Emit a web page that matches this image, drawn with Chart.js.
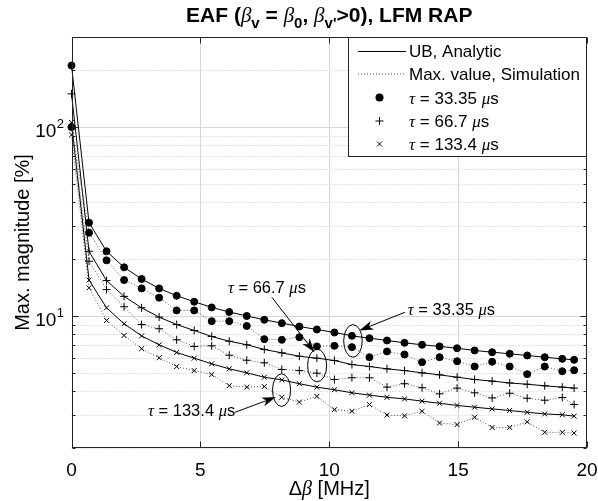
<!DOCTYPE html>
<html lang="en">
<head>
<meta charset="UTF-8">
<title>EAF, LFM RAP</title>
<script src="https://cdn.jsdelivr.net/npm/chart.js"></script>
<style>
  body { margin: 0; background: #fff; }
  #wrap { width: 598px; height: 501px; }
</style>
</head>
<body>
<div id="wrap"><canvas id="eaf" width="598" height="501"></canvas></div>
<script>
// Δβ [MHz]
const dBeta = [0, 0.68, 1.36, 2.04, 2.72, 3.4, 4.08, 4.76, 5.44, 6.12, 6.8, 7.48, 8.16, 8.84, 9.52,
               10.2, 10.88, 11.56, 12.24, 12.92, 13.6, 14.28, 14.96, 15.64, 16.32, 17.0, 17.68, 18.36, 19.04, 19.5];

// upper bound (analytic) and simulated max, per tau
const ub33  = [212, 31.2, 22.0, 18.1, 15.7, 14.0, 12.8, 11.9, 11.1, 10.5, 10.0, 9.55, 9.16, 8.80, 8.48,
               8.18, 7.85, 7.63, 7.42, 7.21, 7.04, 6.90, 6.75, 6.57, 6.43, 6.31, 6.18, 6.05, 5.93, 5.86];
const sim33 = [100, 27.6, 19.7, 15.5, 14.0, 12.5, 10.7, 10.7, 9.39, 9.39, 8.85, 7.54, 7.48, 7.72, 6.90,
               6.95, 6.84, 6.05, 6.49, 6.25, 5.69, 6.05, 5.76, 5.40, 5.72, 5.40, 4.92, 5.40, 5.10, 5.16];
const ub67  = [150, 22.0, 15.4, 12.7, 11.05, 9.86, 9.01, 8.38, 7.79, 7.35, 7.04, 6.65, 6.38, 6.12, 5.98,
               5.81, 5.53, 5.40, 5.25, 5.14, 5.00, 4.88, 4.74, 4.61, 4.52, 4.42, 4.35, 4.27, 4.20, 4.15];
const sim67 = [100, 19.5, 13.8, 11.2, 9.01, 8.56, 7.48, 6.90, 6.95, 6.20, 5.83, 5.65, 5.21, 5.14, 4.98,
               4.61, 4.71, 4.71, 4.20, 4.38, 4.17, 3.87, 4.15, 3.92, 3.68, 3.90, 3.67, 3.58, 3.70, 3.40];
const ub133 = [106, 15.5, 11.05, 9.09, 7.85, 7.04, 6.41, 5.98, 5.58, 5.25, 5.00, 4.74, 4.59, 4.38, 4.20,
               4.07, 3.92, 3.81, 3.71, 3.64, 3.54, 3.45, 3.36, 3.29, 3.22, 3.16, 3.09, 3.03, 3.00, 2.95];
const sim133 = [91, 14.1, 9.47, 7.88, 6.71, 6.01, 5.40, 5.14, 4.90, 4.28, 4.20, 4.23, 3.71, 3.50, 3.75,
                3.19, 3.13, 3.40, 2.99, 2.96, 3.13, 2.71, 2.66, 2.91, 2.57, 2.57, 2.75, 2.42, 2.42, 2.40];

const xTicks = [0, 5, 10, 15, 20];
const yMajor = [10, 100];
const yMinor = [2, 3, 4, 5, 6, 7, 8, 9, 20, 30, 40, 50, 60, 70, 80, 90, 200, 300];
const tauLabels = ['τ = 33.35 μs', 'τ = 66.7 μs', 'τ = 133.4 μs'];
const lineLabels = ['UB, Analytic', 'Max. value, Simulation'];

// callouts: text anchor, arrow start/end, ellipse [x, halfwidth, yTop, yBottom] (data units)
const callouts = [
  { text: 'τ = 33.35 μs', at: [13.05, 10.06], from: [12.94, 10.47], to: [11.17, 8.38], ell: [10.92, 0.36, 9.0, 6.05] },
  { text: 'τ = 66.7 μs',  at: [6.07, 13.16],  from: [7.77, 12.58],  to: [9.43, 6.43],  ell: [9.53, 0.37, 6.67, 4.48] },
  { text: 'τ = 133.4 μs', at: [2.97, 2.97],   from: [6.34, 3.09],   to: [7.93, 3.72],  ell: [8.15, 0.35, 4.94, 3.32] }
];

const SANS = '"Liberation Sans", Arial, Helvetica, sans-serif';
const GREEK = '"Liberation Serif", "DejaVu Serif", serif';

function pts(vals) {
    return dBeta.map((x, i) => ({ x: x, y: vals[i] }));
}

function series(label, vals, style, radius, dotted) {
    return {
        label: label,
        data: pts(vals),
        borderColor: dotted ? '#555' : '#000',
        borderWidth: 1,
        borderDash: dotted ? [1, 2] : [],
        pointStyle: style,
        pointRadius: radius,
        pointBorderWidth: 1,
        pointBorderColor: '#000',
        pointBackgroundColor: '#000',
        tension: 0,
        clip: false
    };
}

// text with greek letters in italic serif, '_c' = subscript char
function rich(ctx, text, x, y, size, align, weight) {
    const w = weight || '';
    const runs = [];
    for (let i = 0; i < text.length; i++) {
        let ch = text[i];
        if (ch === '_') {
            ch = text[++i];
            runs.push([ch, `${w} ${Math.round(size * 0.7)}px ${SANS}`, size * 0.3]);
        } else if (/[α-ω]/.test(ch)) {
            runs.push([ch, `italic ${size}px ${GREEK}`, 0]);
        } else {
            runs.push([ch, `${w} ${size}px ${SANS}`, 0]);
        }
    }
    let total = 0;
    runs.forEach(r => { ctx.font = r[1]; total += ctx.measureText(r[0]).width; });
    let cx = align === 'center' ? x - total / 2 : (align === 'right' ? x - total : x);
    ctx.textAlign = 'left';
    ctx.textBaseline = 'alphabetic';
    runs.forEach(r => {
        ctx.font = r[1];
        ctx.fillText(r[0], cx, y + r[2]);
        cx += ctx.measureText(r[0]).width;
    });
}

function drawMarker(ctx, style, x, y, r) {
    ctx.beginPath();
    if (style === 'circle') {
        ctx.arc(x, y, r + 0.5, 0, Math.PI * 2);
        ctx.fill();
    } else if (style === 'cross') {
        ctx.moveTo(x - r, y); ctx.lineTo(x + r, y);
        ctx.moveTo(x, y - r); ctx.lineTo(x, y + r);
        ctx.stroke();
    } else {
        const d = r * 0.7;
        ctx.moveTo(x - d, y - d); ctx.lineTo(x + d, y + d);
        ctx.moveTo(x + d, y - d); ctx.lineTo(x - d, y + d);
        ctx.stroke();
    }
}

function arrow(ctx, x0, y0, x1, y1) {
    const a = Math.atan2(y1 - y0, x1 - x0), L = 14, W = 4.5;
    ctx.beginPath();
    ctx.moveTo(x0, y0);
    ctx.lineTo(x1 - L * 0.7 * Math.cos(a), y1 - L * 0.7 * Math.sin(a));
    ctx.stroke();
    ctx.save();
    ctx.translate(x1, y1);
    ctx.rotate(a);
    ctx.beginPath();
    ctx.moveTo(0, 0);
    ctx.lineTo(-L, -W);
    ctx.lineTo(-L * 0.72, 0);
    ctx.lineTo(-L, W);
    ctx.closePath();
    ctx.fill();
    ctx.restore();
}

const matlabAxes = {
    id: 'matlabAxes',
    beforeDatasetsDraw(chart) {
        const { ctx, chartArea: a, scales: { x, y } } = chart;
        ctx.save();
        ctx.lineWidth = 1;
        // minor y grid (dotted)
        ctx.strokeStyle = '#c8c8c8';
        ctx.setLineDash([1, 2]);
        yMinor.forEach(v => {
            const py = Math.round(y.getPixelForValue(v)) + 0.5;
            ctx.beginPath(); ctx.moveTo(a.left, py); ctx.lineTo(a.right, py); ctx.stroke();
        });
        // major grid
        ctx.setLineDash([]);
        ctx.strokeStyle = '#d6d6d6';
        yMajor.forEach(v => {
            const py = Math.round(y.getPixelForValue(v)) + 0.5;
            ctx.beginPath(); ctx.moveTo(a.left, py); ctx.lineTo(a.right, py); ctx.stroke();
        });
        xTicks.slice(1, -1).forEach(v => {
            const px = Math.round(x.getPixelForValue(v)) + 0.5;
            ctx.beginPath(); ctx.moveTo(px, a.top); ctx.lineTo(px, a.bottom); ctx.stroke();
        });
        ctx.restore();
    },
    afterDatasetsDraw(chart) {
        const { ctx, chartArea: a, scales: { x, y } } = chart;
        ctx.save();
        ctx.strokeStyle = '#222';
        ctx.fillStyle = '#222';
        ctx.lineWidth = 1;
        // box
        const L = Math.round(a.left) + 0.5, R = Math.round(a.right) - 0.5;
        const T = Math.round(a.top) + 0.5, B = Math.round(a.bottom) - 0.5;
        ctx.strokeRect(L, T, R - L, B - T);
        // inward ticks
        ctx.beginPath();
        xTicks.forEach(v => {
            const px = Math.round(x.getPixelForValue(v)) + 0.5;
            ctx.moveTo(px, B); ctx.lineTo(px, B - 6);
            ctx.moveTo(px, T); ctx.lineTo(px, T + 6);
        });
        yMajor.forEach(v => {
            const py = Math.round(y.getPixelForValue(v)) + 0.5;
            ctx.moveTo(L, py); ctx.lineTo(L + 6, py);
            ctx.moveTo(R, py); ctx.lineTo(R - 6, py);
        });
        yMinor.forEach(v => {
            const py = Math.round(y.getPixelForValue(v)) + 0.5;
            ctx.moveTo(L, py); ctx.lineTo(L + 3, py);
            ctx.moveTo(R, py); ctx.lineTo(R - 3, py);
        });
        ctx.stroke();

        // callouts
        ctx.strokeStyle = '#000';
        ctx.fillStyle = '#000';
        callouts.forEach(c => {
            const ex = x.getPixelForValue(c.ell[0]);
            const rx = x.getPixelForValue(c.ell[0] + c.ell[1]) - ex;
            const yt = y.getPixelForValue(c.ell[2]), yb = y.getPixelForValue(c.ell[3]);
            ctx.beginPath();
            ctx.ellipse(ex, (yt + yb) / 2, rx, (yb - yt) / 2, 0, 0, Math.PI * 2);
            ctx.stroke();
            arrow(ctx, x.getPixelForValue(c.from[0]), y.getPixelForValue(c.from[1]),
                  x.getPixelForValue(c.to[0]), y.getPixelForValue(c.to[1]));
            rich(ctx, c.text, x.getPixelForValue(c.at[0]), y.getPixelForValue(c.at[1]), 16.5, 'left');
        });

        // legend box (top right, inside)
        const lx = 348.5, ly = T, lw = R - 348.5, lh = 119;
        ctx.fillStyle = '#fff';
        ctx.fillRect(lx, ly, lw, lh);
        ctx.strokeStyle = '#222';
        ctx.strokeRect(lx, ly, lw, lh);
        ctx.fillStyle = '#000';
        ctx.strokeStyle = '#000';
        const rowY = [51, 73.5, 97.5, 120.5, 143.5];
        // line samples
        ctx.beginPath(); ctx.moveTo(358, rowY[0] + 0.5); ctx.lineTo(406, rowY[0] + 0.5); ctx.stroke();
        ctx.strokeStyle = '#555';
        ctx.setLineDash([1, 2]);
        ctx.beginPath(); ctx.moveTo(358, rowY[1] + 0.5); ctx.lineTo(406, rowY[1] + 0.5); ctx.stroke();
        ctx.setLineDash([]);
        ctx.strokeStyle = '#000';
        drawMarker(ctx, 'circle', 379.5, rowY[2], 3.5);
        drawMarker(ctx, 'cross', 379.5, rowY[3] + 0.5, 4);
        drawMarker(ctx, 'crossRot', 379.5, rowY[4] + 0.5, 3.5);
        const labels = lineLabels.concat(tauLabels);
        labels.forEach((t, i) => rich(ctx, t, 409, rowY[i] + 6, 17, 'left'));
        ctx.restore();
    },
    afterDraw(chart) {
        const { ctx, chartArea: a, scales: { x, y } } = chart;
        ctx.save();
        ctx.fillStyle = '#000';
        // x tick labels
        xTicks.forEach(v => rich(ctx, String(v), x.getPixelForValue(v), 476, 19, 'center'));
        // y tick labels 10^n
        yMajor.forEach(v => {
            const py = y.getPixelForValue(v);
            const e = String(Math.round(Math.log10(v)));
            ctx.font = `13px ${SANS}`;
            const ew = ctx.measureText(e).width;
            ctx.textAlign = 'left';
            ctx.fillText(e, 64 - ew, py + 1);
            rich(ctx, '10', 64 - ew - 0.5, py + 10, 19, 'right');
        });
        const cx = (a.left + a.right) / 2;
        // axis labels
        rich(ctx, 'Δβ [MHz]', cx, 495, 20, 'center');
        ctx.save();
        ctx.translate(23, (a.top + a.bottom) / 2);
        ctx.rotate(-Math.PI / 2);
        rich(ctx, 'Max. magnitude [%]', 0, 6, 20, 'center');
        ctx.restore();
        // title
        rich(ctx, "EAF (β_v = β_0, β_v_'>0), LFM RAP", cx, 22, 21, 'center', 'bold');
        ctx.restore();
    }
};

new Chart(document.getElementById('eaf').getContext('2d'), {
    type: 'line',
    data: {
        datasets: [
            series('UB τ=33.35', ub33, 'circle', 3.5, false),
            series('Sim τ=33.35', sim33, 'circle', 3.5, true),
            series('UB τ=66.7', ub67, 'cross', 4, false),
            series('Sim τ=66.7', sim67, 'cross', 4, true),
            series('UB τ=133.4', ub133, 'crossRot', 3.5, false),
            series('Sim τ=133.4', sim133, 'crossRot', 3.5, true)
        ]
    },
    options: {
        responsive: false,
        animation: false,
        devicePixelRatio: 1,
        layout: { padding: { left: 71.5, right: 11, top: 37, bottom: 53 } },
        plugins: { legend: { display: false }, tooltip: { enabled: false } },
        scales: {
            x: { type: 'linear', min: 0, max: 20, display: false },
            y: { type: 'logarithmic', min: 2, max: 300, display: false }
        }
    },
    plugins: [matlabAxes]
});
</script>
</body>
</html>
